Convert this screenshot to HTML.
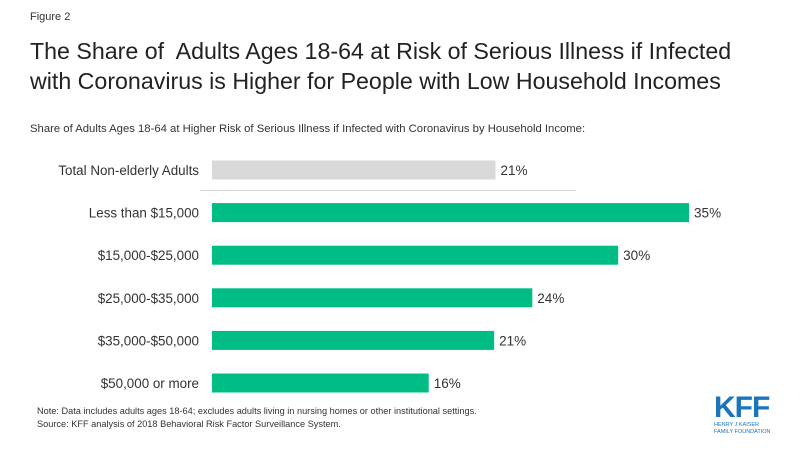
<!DOCTYPE html>
<html><head><meta charset="utf-8"><style>
body{margin:0;background:#fff;font-family:"Liberation Sans",Arial,sans-serif;}
#wrap{position:relative;width:800px;height:450px;overflow:hidden;background:#fff;}
.t{position:absolute;white-space:nowrap;color:#222;}
</style></head><body>
<div id="wrap">
<div class="t" style="left:30px;top:11px;font-size:11px;color:#333">Figure 2</div>
<div class="t" style="left:30px;top:36px;font-size:23.2px;line-height:30px;color:#222">The Share of&nbsp; Adults Ages 18-64 at Risk of Serious Illness if Infected<br>with Coronavirus is Higher for People with Low Household Incomes</div>
<div class="t" style="left:30px;top:123px;font-size:11.3px;color:#333">Share of Adults Ages 18-64 at Higher Risk of Serious Illness if Infected with Coronavirus by Household Income:</div>
<svg id="chart" width="800" height="450" style="position:absolute;left:0;top:0"></svg>
<div class="t" style="left:37px;top:405px;font-size:9.2px;line-height:13px;color:#333">Note: Data includes adults ages 18-64; excludes adults living in nursing homes or other institutional settings.<br>Source: KFF analysis of 2018 Behavioral Risk Factor Surveillance System.</div>
<div style="position:absolute;left:714px;top:395px;color:#1a75bc;">
<div style="font-size:30px;font-weight:bold;line-height:25px;letter-spacing:-1px;">KFF</div>
<div style="font-size:5.5px;line-height:7px;margin-top:2px;">HENRY J KAISER<br>FAMILY FOUNDATION</div>
</div>
</div>
<script>
const categories=["Total Non-elderly Adults","Less than $15,000","$15,000-$25,000","$25,000-$35,000","$35,000-$50,000","$50,000 or more"];
const values=[20.8,35,29.8,23.5,20.7,15.9];
const valueLabels=["21%","35%","30%","24%","21%","16%"];
const svg=document.getElementById('chart');
const NS='http://www.w3.org/2000/svg';
const x0=212,pxPer=13.63;
function xs(v){return x0+v*pxPer;}
function yc(i){return 170+i*42.6;}
const bh=19;
categories.forEach((c,i)=>{
  const r=document.createElementNS(NS,'rect');
  r.setAttribute('x',x0);r.setAttribute('y',yc(i)-bh/2);
  r.setAttribute('width',xs(values[i])-x0);r.setAttribute('height',bh);
  r.setAttribute('fill',i===0?'#d9d9d9':'#00bd86');
  
  
  svg.appendChild(r);
  const l=document.createElementNS(NS,'text');
  l.setAttribute('x',199);l.setAttribute('y',yc(i)+5);
  l.setAttribute('text-anchor','end');l.setAttribute('font-size','13.4');
  l.setAttribute('fill','#333');l.textContent=c;
  
  
  svg.appendChild(l);
  const v=document.createElementNS(NS,'text');
  v.setAttribute('x',xs(values[i])+5);v.setAttribute('y',yc(i)+5);
  v.setAttribute('font-size','13.5');v.setAttribute('fill','#333');
  v.textContent=valueLabels[i];
  
  
  svg.appendChild(v);
});
const sep=document.createElementNS(NS,'line');
sep.setAttribute('x1',200);sep.setAttribute('x2',576);
sep.setAttribute('y1',190.5);sep.setAttribute('y2',190.5);
sep.setAttribute('stroke','#d9d9d9');sep.setAttribute('stroke-width','1');


svg.appendChild(sep);
</script>
</body></html>
